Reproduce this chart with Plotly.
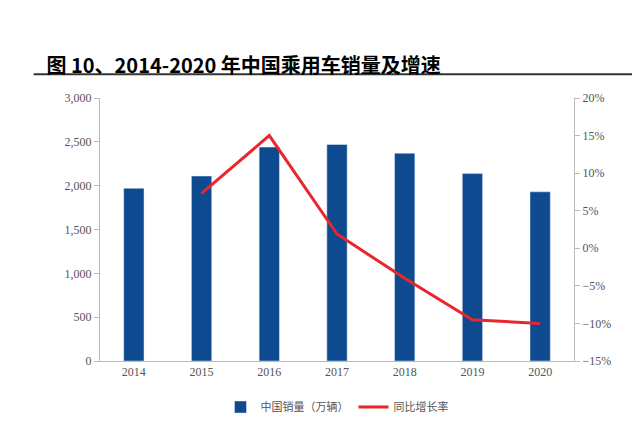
import plotly.graph_objects as go

years = ["2014", "2015", "2016", "2017", "2018", "2019", "2020"]
sales = [1970, 2110, 2440, 2470, 2370, 2140, 1930]
growth_years = ["2015", "2016", "2017", "2018", "2019", "2020"]
growth = [7.3, 15.0, 1.9, -4.0, -9.5, -10.0]

fig = go.Figure()
fig.add_trace(go.Bar(x=years, y=sales, name="中国销量（万辆）",
                     marker_color="#0e4a8f", width=0.3))
fig.add_trace(go.Scatter(x=growth_years, y=growth, name="同比增长率", yaxis="y2",
                         mode="lines", line=dict(color="#e8262b", width=3)))

fig.update_layout(
    width=640, height=427,
    paper_bgcolor="white", plot_bgcolor="white",
    margin=dict(l=92, r=74, t=90, b=74),
    font=dict(family="Liberation Serif, Noto Sans CJK SC", size=12, color="#555"),
    title=dict(text="<b>图 10、2014-2020 年中国乘用车销量及增速</b>", x=0.06, y=0.88,
               font=dict(family="Noto Sans CJK SC", size=20, color="black")),
    xaxis=dict(showline=True, linecolor="#bbb", ticks="", showgrid=False),
    yaxis=dict(range=[0, 3000], dtick=500, tickformat=",", showgrid=False,
               showline=True, linecolor="#bbb", ticks="outside", tickcolor="#bbb"),
    yaxis2=dict(range=[-15, 20], dtick=5, ticksuffix="%", overlaying="y", side="right",
                showgrid=False, showline=True, linecolor="#bbb",
                ticks="outside", tickcolor="#bbb", zeroline=False),
    legend=dict(orientation="h", x=0.5, xanchor="center", y=-0.12,
                font=dict(family="Noto Sans CJK SC", size=11)),
    shapes=[dict(type="line", xref="paper", yref="paper", x0=-0.14, x1=1.15,
                 y0=1.09, y1=1.09, line=dict(color="#333", width=2))],
)

fig.write_html("out.html")
